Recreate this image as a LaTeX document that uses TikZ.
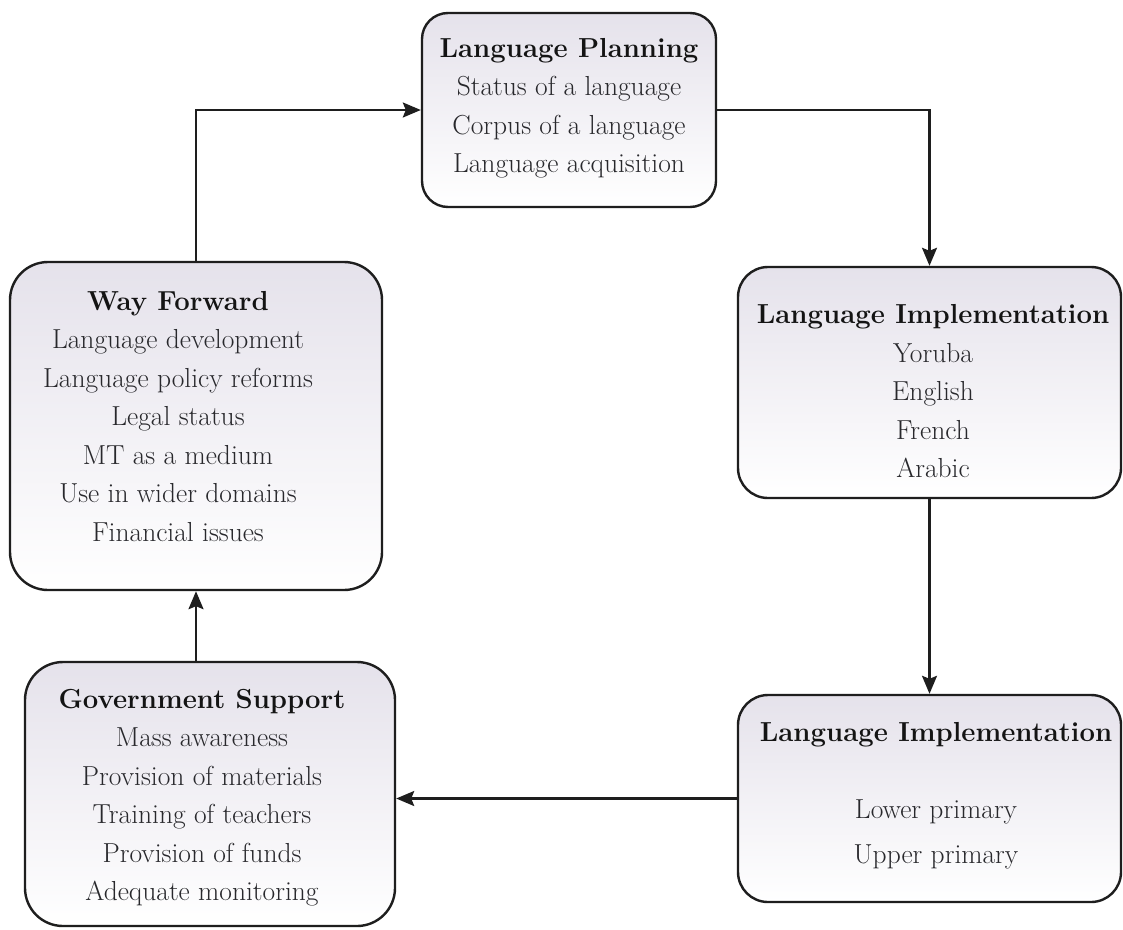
\documentclass[tikz,border=0pt]{standalone}
\usetikzlibrary{arrows.meta}
\definecolor{boxtop}{RGB}{229,226,235}
\definecolor{txt}{RGB}{40,40,44}
\definecolor{ttl}{RGB}{20,20,20}
\definecolor{edge}{RGB}{30,30,30}
\begin{document}
\begin{tikzpicture}[x=1pt,y=-1pt,
  box/.style={draw=edge, line width=2.4pt, rounded corners=#1, top color=boxtop, bottom color=white, inner sep=0pt},
  label/.style={align=center, inner sep=0pt, text=txt, font=\fontsize{27.5}{38.5}\selectfont},
  arr/.style={draw=edge, line width=2.2pt, -{Stealth[length=18pt,width=15pt,inset=3pt]}}]
\fill[white] (0,0) rectangle (1123,929);
\useasboundingbox (0,0) rectangle (1123,929);
% boxes
\node[box=26, minimum width=294pt, minimum height=194pt] (lp) at (569,110) {};
\node[box=38, minimum width=372pt, minimum height=328pt] (wf) at (196,426) {};
\node[box=30, minimum width=383pt, minimum height=231pt] (li1) at (929.5,382.5) {};
\node[box=30, minimum width=383pt, minimum height=207pt] (li2) at (929.5,798.5) {};
\node[box=38, minimum width=370pt, minimum height=264pt] (gs) at (210,794) {};
% texts
\node[label] (lpt) at (569,108.5) {\textcolor{ttl}{\bfseries Language Planning}\\Status of a language\\Corpus of a language\\Language acquisition};
\node[label] (wft) at (178,416.5) {\textcolor{ttl}{\bfseries Way Forward}\\Language development\\Language policy reforms\\Legal status\\MT as a medium\\Use in wider domains\\Financial issues};
\node[label] (li1t) at (933,391.5) {\textcolor{ttl}{\bfseries Language Implementation}\\Yoruba\\English\\French\\Arabic};
\node[label] (li2t) at (936,796) {\textcolor{ttl}{\bfseries Language Implementation}\\[38.5pt]Lower primary\\[6.5pt]Upper primary};
\node[label] (gst) at (202,797.5) {\textcolor{ttl}{\bfseries Government Support}\\Mass awareness\\Provision of materials\\Training of teachers\\Provision of funds\\Adequate monitoring};
% connectors
\draw[arr] (wf.north) |- (lp.west);
\draw[arr] (lp.east) -| (li1.north);
\draw[arr] (li1.south) -- (li2.north);
\draw[arr] (li2.west) -- (li2.west -| gs.east);
\draw[arr] (gs.north -| wf.south) -- (wf.south);
\end{tikzpicture}
\end{document}
